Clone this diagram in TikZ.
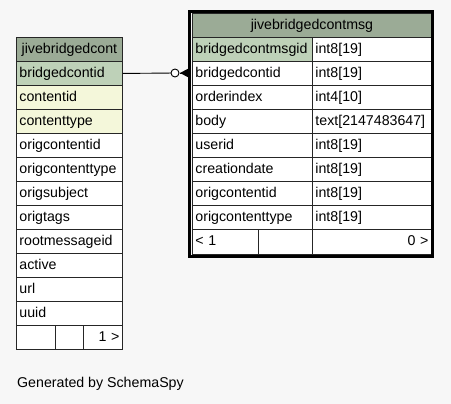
\documentclass[tikz,border=0pt]{standalone}
\usepackage{fontspec}
\setmainfont{Liberation Sans}
\definecolor{bgc}{HTML}{F7F7F7}
\definecolor{titlec}{HTML}{9BAB96}
\definecolor{pkc}{HTML}{BED1B8}
\definecolor{idxc}{HTML}{F4F7DA}
\begin{document}
\begin{tikzpicture}[x=1pt,y=-1pt,
  cell/.style={draw=black!85, line width=0.9pt, anchor=north west, minimum height=24pt,
    inner xsep=3pt, inner ysep=0pt, text height=10.5pt, text depth=3pt, fill=white, font=\fontsize{14.2}{16}\selectfont},
  lw/.style={text width=100pt, align=left},
  c1/.style={text width=114pt, align=left},
  c2/.style={text width=113pt, align=left},
  ttl/.style={fill=titlec, align=center},
  pk/.style={fill=pkc},
  idx/.style={fill=idxc}]
\fill[bgc] (0,0) rectangle (451,404);
% left table
\node[cell,ttl,text width=100pt] (lt) at (16,37) {jivebridgedcont};
\node[cell,lw,pk] (l1) at (16,61) {bridgedcontid};
\node[cell,lw,idx] (l2) at (16,85) {contentid};
\node[cell,lw,idx] (l3) at (16,109) {contenttype};
\node[cell,lw] (l4) at (16,133) {origcontentid};
\node[cell,lw] (l5) at (16,157) {origcontenttype};
\node[cell,lw] (l6) at (16,181) {origsubject};
\node[cell,lw] (l7) at (16,205) {origtags};
\node[cell,lw] (l8) at (16,229) {rootmessageid};
\node[cell,lw] (l9) at (16,253) {active};
\node[cell,lw] (l10) at (16,277) {url};
\node[cell,lw] (l11) at (16,301) {uuid};
\node[cell,text width=33pt] (lf1) at (16,325) {};
\node[cell,text width=22pt] (lf2) at (55,325) {};
\node[cell,text width=33pt,align=right] (lf3) at (83,325) {1 >};
% right table
\node[cell,ttl,text width=233pt] (rt) at (192,13) {jivebridgedcontmsg};
\node[cell,c1,pk] (r1a) at (192,37) {bridgedcontmsgid};
\node[cell,c2] (r1b) at (312,37) {int8[19]};
\node[cell,c1] (r2a) at (192,61) {bridgedcontid};
\node[cell,c2] (r2b) at (312,61) {int8[19]};
\node[cell,c1] (r3a) at (192,85) {orderindex};
\node[cell,c2] (r3b) at (312,85) {int4[10]};
\node[cell,c1] (r4a) at (192,109) {body};
\node[cell,c2] (r4b) at (312,109) {text[2147483647]};
\node[cell,c1] (r5a) at (192,133) {userid};
\node[cell,c2] (r5b) at (312,133) {int8[19]};
\node[cell,c1] (r6a) at (192,157) {creationdate};
\node[cell,c2] (r6b) at (312,157) {int8[19]};
\node[cell,c1] (r7a) at (192,181) {origcontentid};
\node[cell,c2] (r7b) at (312,181) {int8[19]};
\node[cell,c1] (r8a) at (192,205) {origcontenttype};
\node[cell,c2] (r8b) at (312,205) {int8[19]};
\node[cell,text width=60pt,align=left,minimum height=25pt] (rf1) at (192,229) {< 1};
\node[cell,text width=48pt,minimum height=25pt] (rf2) at (258,229) {};
\node[cell,c2,align=right,minimum height=25pt] (rf3) at (312,229) {0 >};
\draw[line width=3pt] (189.5,11.5) rectangle (432.5,256.5);
% connector
\coordinate (ce) at (175,73);
\coordinate (cf) at (180,73);
\coordinate (tip) at (188.5,73);
\draw[line width=0.9pt] (l1.east) -- (ce);
\draw[line width=0.9pt] (cf) -- (tip);
\draw[line width=0.9pt,fill=white] (ce) circle (4pt);
\fill (cf) -- (188.5,68.5) -- (188.5,77.5) -- cycle;
\node[anchor=base west,inner sep=0,font=\fontsize{14.2}{16}\selectfont] (gen) at (17,388) {Generated by SchemaSpy};
\end{tikzpicture}
\end{document}
